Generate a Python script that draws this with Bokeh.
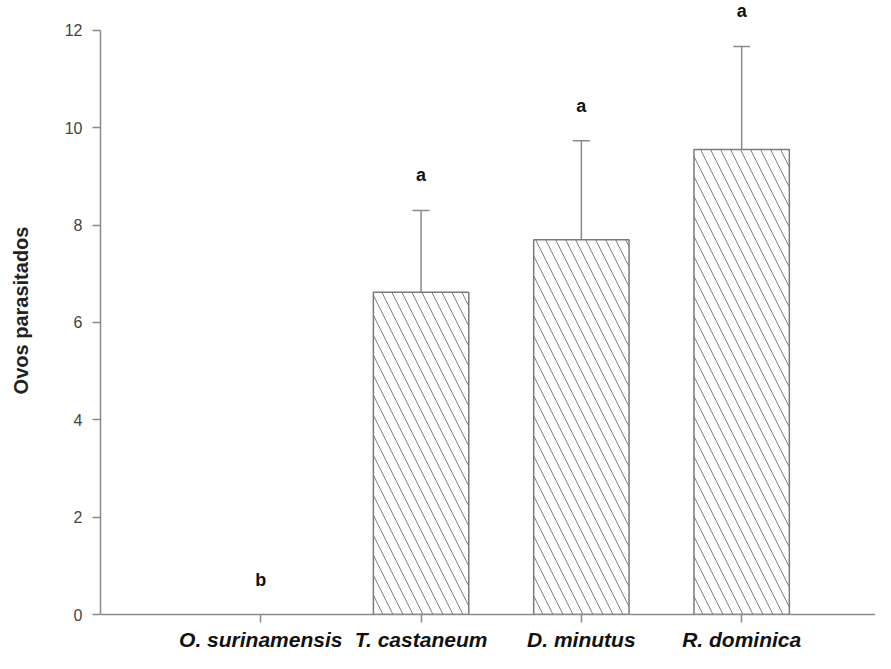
from bokeh.plotting import figure
from bokeh.models import ColumnDataSource, FixedTicker, Range1d, Whisker, TeeHead
from bokeh.core.properties import value
from bokeh.embed import file_html
from bokeh.resources import INLINE

# ---- data ----
species = ["O. surinamensis", "T. castaneum", "D. minutus", "R. dominica"]
means = [0.0, 6.62, 7.70, 9.55]
errors = [0.0, 1.68, 2.03, 2.12]
letters = ["b", "a", "a", "a"]
y_ticks = [0, 2, 4, 6, 8, 10, 12]
y_title = "Ovos parasitados"

xs = list(range(1, len(species) + 1))
upper = [m + e for m, e in zip(means, errors)]

p = figure(width=875, height=653, output_backend="svg", toolbar_location=None,
           x_range=Range1d(0, 4.835), y_range=Range1d(0, 12.49),
           min_border_left=100, min_border_right=0, min_border_top=6,
           min_border_bottom=30)
p.outline_line_color = None
p.xgrid.visible = False
p.ygrid.visible = False
p.background_fill_color = "white"

bars_src = ColumnDataSource(dict(
    x=[x for x, m in zip(xs, means) if m > 0],
    top=[m for m in means if m > 0],
    up=[u for u, m in zip(upper, means) if m > 0],
))

p.vbar(x="x", top="top", bottom=0, width=0.595, source=bars_src,
       fill_color="white", line_color="#7a7a7a", line_width=1.5,
       hatch_pattern="\\", hatch_color="#808080", hatch_weight=1,
       hatch_scale=20)

w = Whisker(base="x", upper="up", lower="top", source=bars_src,
            line_color="#8a8a8a", line_width=1.5,
            upper_head=TeeHead(size=17, line_color="#8a8a8a", line_width=1.5),
            lower_head=None)
p.add_layout(w)

lab_src = ColumnDataSource(dict(x=xs, y=upper, t=letters))
p.text(x="x", y="y", text="t", source=lab_src, text_align="center",
       text_baseline="middle", y_offset=-35, text_font=value("Liberation Sans"),
       text_font_style="bold", text_font_size="18px", text_color="#111111")

# axes
for ax in (p.xaxis[0], p.yaxis[0]):
    ax.axis_line_color = "#8a8a8a"
    ax.axis_line_width = 1.5
    ax.major_tick_line_color = "#8a8a8a"
    ax.major_tick_line_width = 1.5
    ax.major_tick_out = 8
    ax.major_tick_in = 0
    ax.minor_tick_line_color = None

p.yaxis.ticker = FixedTicker(ticks=y_ticks)
p.yaxis.bounds = (0, 12)
p.yaxis.major_label_text_font = "Liberation Sans"
p.yaxis.major_label_text_font_size = "16px"
p.yaxis.major_label_text_color = "#444444"
p.yaxis.major_label_standoff = 10
p.yaxis.axis_label = y_title
p.yaxis.axis_label_text_font = "Liberation Sans"
p.yaxis.axis_label_text_font_style = "bold"
p.yaxis.axis_label_text_font_size = "20px"
p.yaxis.axis_label_text_color = "#222222"
p.yaxis.axis_label_standoff = 30

p.xaxis.ticker = FixedTicker(ticks=xs)
p.xaxis.major_label_overrides = {x: s for x, s in zip(xs, species)}
p.xaxis.major_label_text_font = "Liberation Sans"
p.xaxis.major_label_text_font_style = "bold italic"
p.xaxis.major_label_text_font_size = "21px"
p.xaxis.major_label_text_color = "#111111"
p.xaxis.major_label_standoff = 5

open("out.html", "w").write(file_html(p, INLINE))
